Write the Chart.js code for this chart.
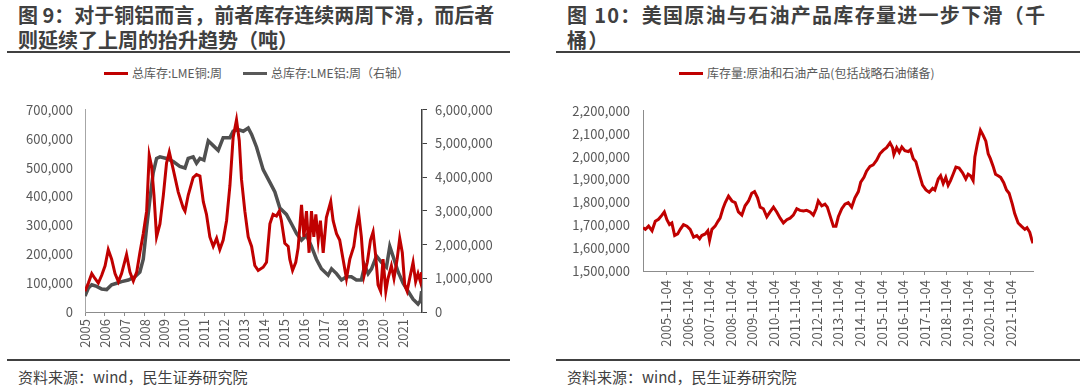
<!DOCTYPE html>
<html lang="zh">
<head>
<meta charset="UTF-8">
<title>库存图</title>
<script src="https://cdn.jsdelivr.net/npm/chart.js"></script>
<style>
  body {
    margin: 0;
    width: 1080px;
    height: 389px;
    background: #fff;
    font-family: "Noto Sans CJK SC", "Noto Sans", sans-serif;
    position: relative;
    overflow: hidden;
  }
  .title {
    position: absolute;
    top: 2px;
    font-size: 20px;
    font-weight: bold;
    line-height: 25px;
    color: #404040;
    white-space: nowrap;
  }
  .rule {
    position: absolute;
    height: 2px;
    background: #404040;
  }
  .legend {
    position: absolute;
    top: 65px;
    font-size: 12px;
    color: #595959;
    white-space: nowrap;
    line-height: 16px;
  }
  .legend span.key {
    display: inline-block;
    width: 24px;
    height: 3px;
    vertical-align: middle;
    margin-right: 4px;
    position: relative;
    top: -1px;
  }
  .source {
    position: absolute;
    top: 366px;
    font-size: 15px;
    color: #404040;
    white-space: nowrap;
  }
  .box {
    position: absolute;
  }
</style>
</head>
<body>
  <div class="title" style="left:18px">图 9：对于铜铝而言，前者库存连续两周下滑，而后者<br>则延续了上周的抬升趋势（吨）</div>
  <div class="rule" style="left:7px; width:503px; top:51px"></div>
  <div class="legend" style="left:104px"><span class="key" style="background:#c00000"></span>总库存:LME铜:周<span style="display:inline-block;width:21px"></span><span class="key" style="background:#595959"></span>总库存:LME铝:周（右轴）</div>
  <div class="box" style="left:0; top:90px; width:515px; height:268px"><canvas id="cuAl"></canvas></div>
  <div class="rule" style="left:7px; width:503px; top:359px"></div>
  <div class="source" style="left:18px">资料来源：wind，民生证券研究院</div>

  <div class="title" style="left:567px; letter-spacing:1.3px">图 10：美国原油与石油产品库存量进一步下滑（千<br>桶）</div>
  <div class="rule" style="left:556px; width:524px; top:51px"></div>
  <div class="legend" style="left:679px"><span class="key" style="background:#c00000"></span>库存量:原油和石油产品(包括战略石油储备)</div>
  <div class="box" style="left:540px; top:90px; width:500px; height:268px"><canvas id="oil"></canvas></div>
  <div class="rule" style="left:556px; width:524px; top:359px"></div>
  <div class="source" style="left:567px">资料来源：wind，民生证券研究院</div>

<script>
// 图9 x 轴标签
const yearTicks = [2005, 2006, 2007, 2008, 2009, 2010, 2011, 2012, 2013, 2014, 2015, 2016, 2017, 2018, 2019, 2020, 2021];
const yearLabels = ['2005', '2006', '2007', '2008', '2009', '2010', '2011', '2012', '2013', '2014', '2015', '2016', '2017', '2018', '2019', '2020', '2021'];

// LME 铜 总库存 (吨)
const cuYears = [2005.00, 2005.17, 2005.34, 2005.50, 2005.67, 2005.84, 2006.01, 2006.17, 2006.34, 2006.51,
  2006.68, 2006.84, 2007.09, 2007.26, 2007.43, 2007.60, 2007.76, 2007.93, 2008.10, 2008.23,
  2008.35, 2008.47, 2008.60, 2008.77, 2008.94, 2009.10, 2009.24, 2009.44, 2009.69, 2009.94,
  2010.03, 2010.19, 2010.44, 2010.61, 2010.78, 2010.95, 2011.11, 2011.28, 2011.45, 2011.62,
  2011.78, 2011.95, 2012.12, 2012.29, 2012.45, 2012.62, 2012.76, 2012.87, 2013.04, 2013.21,
  2013.38, 2013.54, 2013.71, 2013.96, 2014.13, 2014.30, 2014.46, 2014.63, 2014.77, 2014.88,
  2015.05, 2015.22, 2015.30, 2015.44, 2015.60, 2015.72, 2015.89, 2016.01, 2016.14, 2016.27,
  2016.39, 2016.51, 2016.61, 2016.73, 2016.84, 2016.98, 2017.14, 2017.36, 2017.48, 2017.65,
  2017.81, 2017.98, 2018.15, 2018.32, 2018.52, 2018.65, 2018.77, 2018.90, 2019.04, 2019.20,
  2019.36, 2019.49, 2019.62, 2019.74, 2019.87, 2019.99, 2020.13, 2020.24, 2020.41, 2020.54,
  2020.70, 2020.83, 2020.96, 2021.08, 2021.20, 2021.33, 2021.50, 2021.63, 2021.75, 2021.87,
  2021.93];
const cuStock = [72000, 100000, 133000, 116000, 100000, 127000, 160000, 216000, 183000, 133000,
  105000, 133000, 199000, 138000, 107000, 138000, 205000, 271000, 349000, 543000,
  504000, 404000, 260000, 305000, 404000, 515000, 554000, 493000, 415000, 360000,
  349000, 404000, 465000, 476000, 471000, 382000, 338000, 260000, 227000, 255000,
  216000, 249000, 316000, 438000, 604000, 665000, 593000, 460000, 349000, 260000,
  227000, 161000, 144000, 155000, 172000, 305000, 338000, 332000, 349000, 316000,
  238000, 227000, 183000, 144000, 172000, 222000, 371000, 260000, 349000, 205000,
  349000, 260000, 338000, 249000, 316000, 205000, 327000, 382000, 316000, 271000,
  249000, 183000, 116000, 183000, 227000, 293000, 338000, 260000, 127000, 172000,
  249000, 277000, 194000, 94000, 72000, 183000, 72000, 116000, 160000, 116000,
  183000, 255000, 205000, 94000, 72000, 116000, 172000, 105000, 133000, 105000,
  138000];

// LME 铝 总库存 (吨, 右轴)
const alYears = [2005.00, 2005.17, 2005.34, 2005.59, 2005.84, 2006.09, 2006.34, 2006.59, 2006.84, 2007.18,
  2007.51, 2007.76, 2007.93, 2008.10, 2008.27, 2008.43, 2008.60, 2008.77, 2009.10, 2009.44,
  2009.77, 2010.03, 2010.19, 2010.44, 2010.61, 2010.78, 2010.98, 2011.20, 2011.45, 2011.70,
  2011.95, 2012.29, 2012.45, 2012.71, 2012.96, 2013.21, 2013.38, 2013.63, 2013.96, 2014.30,
  2014.55, 2014.80, 2015.13, 2015.39, 2015.64, 2015.89, 2016.14, 2016.39, 2016.64, 2016.89,
  2017.23, 2017.40, 2017.65, 2017.90, 2018.15, 2018.40, 2018.65, 2018.90, 2019.07, 2019.24,
  2019.41, 2019.66, 2019.91, 2020.16, 2020.33, 2020.49, 2020.75, 2021.00, 2021.25, 2021.50,
  2021.75, 2021.87, 2021.93];
const alStock = [475000, 712000, 807000, 760000, 684000, 665000, 807000, 854000, 902000, 949000,
  1044000, 1187000, 1566000, 2516000, 3370000, 4130000, 4557000, 4604000, 4557000, 4462000,
  4320000, 4272000, 4557000, 4604000, 4415000, 4557000, 4510000, 5079000, 4937000, 4794000,
  5174000, 5174000, 5364000, 5411000, 5364000, 5459000, 5269000, 4889000, 4225000, 3845000,
  3560000, 3085000, 2896000, 2611000, 2326000, 2136000, 2278000, 1946000, 1566000, 1282000,
  1092000, 1282000, 1139000, 949000, 1044000, 1044000, 949000, 949000, 1377000, 1139000,
  1282000, 1661000, 1471000, 1329000, 1946000, 1661000, 1187000, 854000, 617000, 380000,
  237000, 332000, 617000];

// 图10 x 轴标签
const dateTicks = [2005.84, 2006.84, 2007.84, 2008.84, 2009.84, 2010.84, 2011.84, 2012.84, 2013.84,
  2014.84, 2015.84, 2016.84, 2017.84, 2018.84, 2019.84, 2020.84, 2021.84];
const dateLabels = ['2005-11-04', '2006-11-04', '2007-11-04', '2008-11-04', '2009-11-04', '2010-11-04',
  '2011-11-04', '2012-11-04', '2013-11-04', '2014-11-04', '2015-11-04', '2016-11-04', '2017-11-04',
  '2018-11-04', '2019-11-04', '2020-11-04', '2021-11-04'];

// 美国 原油和石油产品库存 (千桶)
const oilYears = [2004.76, 2004.87, 2005.02, 2005.18, 2005.33, 2005.48, 2005.64, 2005.75, 2005.87, 2005.99,
  2006.10, 2006.23, 2006.37, 2006.49, 2006.64, 2006.80, 2006.95, 2007.11, 2007.26, 2007.39,
  2007.49, 2007.65, 2007.77, 2007.85, 2007.96, 2008.11, 2008.24, 2008.34, 2008.47, 2008.58,
  2008.73, 2008.89, 2009.04, 2009.19, 2009.35, 2009.50, 2009.66, 2009.81, 2009.94, 2010.08,
  2010.20, 2010.35, 2010.51, 2010.66, 2010.82, 2010.97, 2011.13, 2011.28, 2011.44, 2011.59,
  2011.74, 2011.90, 2012.05, 2012.21, 2012.36, 2012.52, 2012.67, 2012.80, 2012.90, 2013.06,
  2013.21, 2013.32, 2013.48, 2013.60, 2013.72, 2013.83, 2013.99, 2014.14, 2014.29, 2014.45,
  2014.60, 2014.76, 2014.87, 2015.02, 2015.14, 2015.30, 2015.45, 2015.61, 2015.76, 2015.92,
  2016.07, 2016.23, 2016.35, 2016.41, 2016.54, 2016.66, 2016.78, 2016.92, 2017.08, 2017.18,
  2017.31, 2017.43, 2017.59, 2017.74, 2017.90, 2018.05, 2018.21, 2018.31, 2018.47, 2018.58,
  2018.70, 2018.82, 2018.93, 2019.04, 2019.16, 2019.29, 2019.44, 2019.60, 2019.75, 2019.86,
  2019.97, 2020.09, 2020.17, 2020.28, 2020.43, 2020.55, 2020.68, 2020.79, 2020.89, 2021.02,
  2021.13, 2021.25, 2021.37, 2021.51, 2021.64, 2021.76, 2021.91, 2022.02, 2022.18, 2022.33,
  2022.49, 2022.59, 2022.72, 2022.80, 2022.87];
const oilStock = [1689000, 1682000, 1696000, 1676000, 1717000, 1726000, 1744000, 1758000, 1724000, 1703000,
  1710000, 1655000, 1662000, 1682000, 1703000, 1696000, 1682000, 1648000, 1655000, 1641000,
  1655000, 1662000, 1676000, 1634000, 1682000, 1696000, 1717000, 1731000, 1772000, 1799000,
  1827000, 1806000, 1799000, 1758000, 1744000, 1785000, 1806000, 1840000, 1847000, 1820000,
  1779000, 1772000, 1737000, 1758000, 1779000, 1758000, 1731000, 1710000, 1724000, 1731000,
  1744000, 1772000, 1765000, 1762000, 1765000, 1758000, 1744000, 1772000, 1806000, 1785000,
  1792000, 1779000, 1731000, 1696000, 1696000, 1737000, 1772000, 1792000, 1799000, 1779000,
  1820000, 1847000, 1888000, 1909000, 1936000, 1957000, 1964000, 1984000, 2012000, 2028000,
  2039000, 2060000, 2039000, 2009000, 2039000, 2019000, 2042000, 2026000, 2022000, 2030000,
  1991000, 1978000, 1923000, 1875000, 1854000, 1844000, 1861000, 1854000, 1902000, 1916000,
  1882000, 1909000, 1875000, 1895000, 1923000, 1954000, 1950000, 1929000, 1902000, 1923000,
  1916000, 1895000, 1998000, 2053000, 2115000, 2094000, 2067000, 2012000, 1991000, 1957000,
  1923000, 1916000, 1909000, 1886000, 1854000, 1840000, 1792000, 1751000, 1710000, 1696000,
  1682000, 1689000, 1669000, 1641000, 1621000];

const axisFont = { family: '"Noto Sans CJK SC", "Noto Sans", sans-serif', size: 13 };
const tickColor = '#595959';
const fmt = v => v.toLocaleString('en-US');

function pairs(xs, ys) {
  return xs.map((x, i) => ({ x: x, y: ys[i] }));
}

new Chart(document.getElementById('cuAl'), {
  type: 'line',
  data: {
    datasets: [
      {
        label: '总库存:LME铜:周',
        data: pairs(cuYears, cuStock),
        borderColor: '#c00000',
        borderWidth: 3,
        pointRadius: 0,
        tension: 0,
        yAxisID: 'y'
      },
      {
        label: '总库存:LME铝:周（右轴）',
        data: pairs(alYears, alStock),
        borderColor: '#505050',
        borderWidth: 3.5,
        pointRadius: 0,
        tension: 0,
        yAxisID: 'y1'
      }
    ]
  },
  options: {
    responsive: true,
    maintainAspectRatio: false,
    animation: false,
    layout: { autoPadding: false, padding: { top: 11, left: 0, right: 0, bottom: 0 } },
    plugins: { legend: { display: false }, tooltip: { enabled: false } },
    scales: {
      x: {
        type: 'linear',
        min: 2005,
        max: 2021.95,
        afterBuildTicks: axis => { axis.ticks = yearTicks.map(v => ({ value: v })); },
        afterFit: axis => { axis.height = 46; },
        ticks: {
          autoSkip: false,
          minRotation: 90,
          maxRotation: 90,
          padding: 3,
          color: tickColor,
          font: axisFont,
          callback: v => yearLabels[yearTicks.indexOf(v)]
        },
        grid: { drawOnChartArea: false, drawTicks: true, tickLength: 4, color: '#8c8c8c' },
        border: { color: '#8c8c8c' }
      },
      y: {
        position: 'left',
        min: 0,
        max: 700000,
        afterFit: axis => { axis.width = 85; },
        ticks: { stepSize: 100000, padding: 12, color: tickColor, font: axisFont, callback: fmt },
        grid: { display: false, drawTicks: false },
        border: { color: '#a6a6a6' }
      },
      y1: {
        position: 'right',
        min: 0,
        max: 6000000,
        afterFit: axis => { axis.width = 93; },
        ticks: { stepSize: 1000000, padding: 8, color: tickColor, font: axisFont, callback: fmt },
        grid: { drawOnChartArea: false, drawTicks: true, tickLength: 5, color: '#404040' },
        border: { color: '#404040', width: 1.5 }
      }
    }
  }
});

new Chart(document.getElementById('oil'), {
  type: 'line',
  data: {
    datasets: [
      {
        label: '库存量:原油和石油产品(包括战略石油储备)',
        data: pairs(oilYears, oilStock),
        borderColor: '#c00000',
        borderWidth: 3,
        pointRadius: 0,
        tension: 0
      }
    ]
  },
  options: {
    responsive: true,
    maintainAspectRatio: false,
    animation: false,
    layout: { autoPadding: false, padding: { top: 11, left: 0, right: 7, bottom: 0 } },
    plugins: { legend: { display: false }, tooltip: { enabled: false } },
    scales: {
      x: {
        type: 'linear',
        min: 2004.76,
        max: 2022.87,
        afterBuildTicks: axis => { axis.ticks = dateTicks.map(v => ({ value: v })); },
        afterFit: axis => { axis.height = 87; },
        ticks: {
          autoSkip: false,
          minRotation: 90,
          maxRotation: 90,
          padding: 5,
          color: tickColor,
          font: axisFont,
          callback: v => dateLabels[dateTicks.indexOf(v)]
        },
        grid: { drawOnChartArea: false, drawTicks: true, tickLength: 4, color: '#8c8c8c' },
        border: { color: '#8c8c8c' }
      },
      y: {
        min: 1500000,
        max: 2200000,
        afterFit: axis => { axis.width = 103; },
        ticks: { stepSize: 100000, padding: 13, color: tickColor, font: axisFont, callback: fmt },
        grid: { display: false, drawTicks: false },
        border: { color: '#8c8c8c' }
      }
    }
  }
});
</script>
</body>
</html>
